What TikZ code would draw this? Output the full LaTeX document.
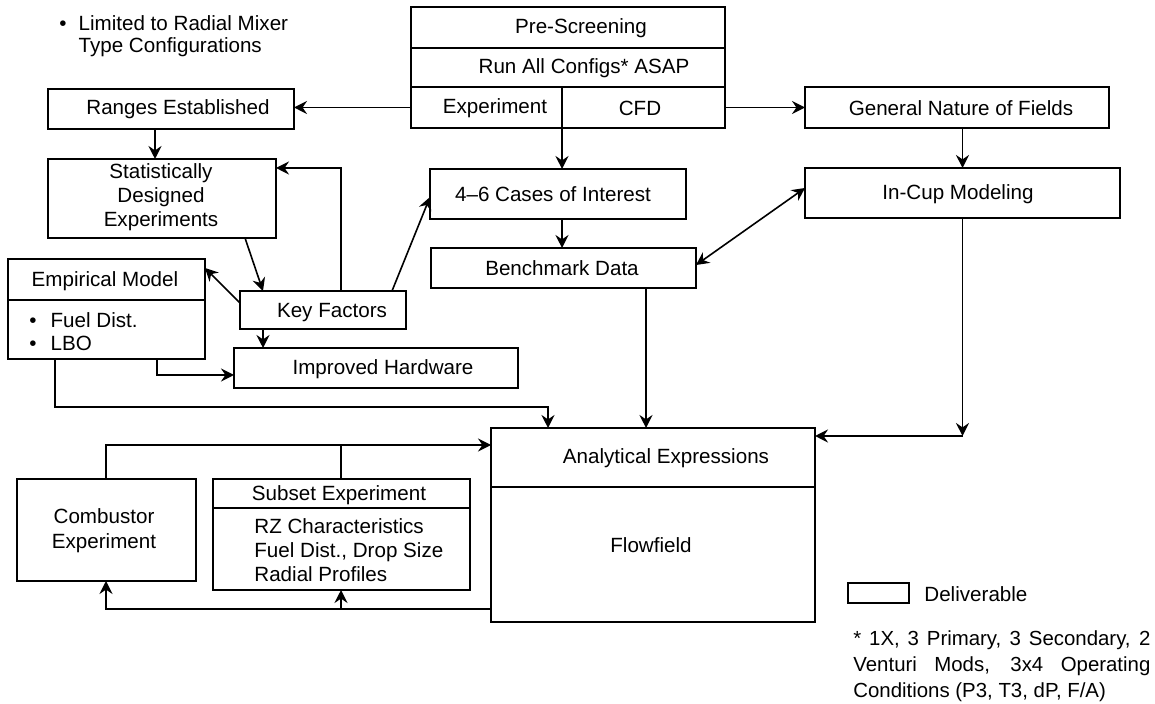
\documentclass[tikz,border=0pt]{standalone}
\usepackage{fontspec}
\setmainfont{Liberation Sans}
\usetikzlibrary{arrows.meta,calc}
\begin{document}
\begin{tikzpicture}[x=0.5pt,y=-0.5pt,
  box/.style={draw,line width=1.4pt,inner sep=0pt,outer sep=0pt},
  lbl/.style={inner sep=0pt,font=\fontsize{10.3}{12}\selectfont,align=center},
  con/.style={line width=0.8pt},
  tip/.tip={Stealth[length=6.5pt,width=6.5pt,inset=2.2pt]},
  arr/.style={con,-tip},
  darr/.style={con,tip-tip}]
\useasboundingbox (0,0) rectangle (1155,704);

% ---------- top-left note
\node[lbl,anchor=west,align=left,font=\fontsize{10.3}{11}\selectfont] (note) at (59,36)
  {\textbullet\hspace{6pt}Limited to Radial Mixer\\\hphantom{\textbullet\hspace{6pt}}Type Configurations};

% ---------- pre-screening block
\node[box,minimum width=157pt,minimum height=20.5pt] (pre) at (568,27.5) {};
\node[box,minimum width=157pt,minimum height=19.5pt] (run) at (568,67.5) {};
\node[box,minimum width=75.5pt,minimum height=20.5pt] (exp) at (486.5,107.5) {};
\node[box,minimum width=81.5pt,minimum height=20.5pt] (cfd) at (643.5,107.5) {};
\node[lbl] (preT) at (581,28) {Pre-Screening};
\node[lbl] (runT) at (584,68) {Run All Configs* ASAP};
\node[lbl] (expT) at (495,108) {Experiment};
\node[lbl] (cfdT) at (640,108) {CFD};

% ---------- left column
\node[box,minimum width=123pt,minimum height=20pt] (ranges) at (171,109) {};
\node[lbl] (rangesT) at (178,109) {Ranges Established};
\node[box,minimum width=114pt,minimum height=39.5pt] (stat) at (162,198.5) {};
\node[lbl] (statT) at (161,197) {Statistically\\Designed\\Experiments};

\node[box,minimum width=98.5pt,minimum height=20.5pt] (emph) at (106.5,279.5) {};
\node[box,minimum width=98.5pt,minimum height=29.5pt] (empb) at (106.5,329.5) {};
\node[lbl] (emphT) at (105,281) {Empirical Model};
\node[lbl,anchor=west,align=left,font=\fontsize{10.3}{11.5}\selectfont] (empbT) at (29,332)
  {\textbullet\hspace{7pt}Fuel Dist.\\\textbullet\hspace{7pt}LBO};

\node[box,minimum width=83pt,minimum height=19pt] (key) at (323,310) {};
\node[lbl] (keyT) at (332,313) {Key Factors};
\node[box,minimum width=142pt,minimum height=20pt] (imp) at (376,368) {};
\node[lbl] (impT) at (383,369) {Improved Hardware};

% ---------- middle column
\node[box,minimum width=128pt,minimum height=25pt] (cases) at (558,194) {};
\node[lbl] (casesT) at (553,194) {4\textendash6 Cases of Interest};
\node[box,minimum width=132.5pt,minimum height=20pt] (bench) at (563.5,268) {};
\node[lbl] (benchT) at (562,268) {Benchmark Data};

% ---------- right column
\node[box,minimum width=152pt,minimum height=20.5pt] (gen) at (957,107.5) {};
\node[lbl] (genT) at (961,108) {General Nature of Fields};
\node[box,minimum width=157.5pt,minimum height=25pt] (incup) at (962.5,193) {};
\node[lbl] (incupT) at (958,194) {In-Cup Modeling};

% ---------- analytical expressions
\node[box,minimum width=162pt,minimum height=29.5pt] (anah) at (653,457.5) {};
\node[box,minimum width=162pt,minimum height=67.5pt] (anab) at (653,554.5) {};
\node[lbl] (anahT) at (666,458) {Analytical Expressions};
\node[lbl] (anabT) at (651,545) {Flowfield};

% ---------- bottom-left boxes
\node[box,minimum width=89.5pt,minimum height=51pt] (comb) at (106.5,530) {};
\node[lbl,font=\fontsize{10.3}{12.5}\selectfont] (combT) at (104,531) {Combustor\\Experiment};
\node[box,minimum width=128.5pt,minimum height=14.5pt] (subh) at (341.5,493.5) {};
\node[box,minimum width=128.5pt,minimum height=41pt] (subb) at (341.5,549) {};
\node[lbl] (subhT) at (339,495) {Subset Experiment};
\node[lbl,anchor=west,align=left] (subbT) at (254,550)
  {RZ Characteristics\\Fuel Dist., Drop Size\\Radial Profiles};

% ---------- legend and footnote
\node[box,line width=1.2pt,minimum width=30.5pt,minimum height=10pt] (leg) at (878.5,593) {};
\node[lbl,anchor=west] (legT) at (924,594) {Deliverable};
\node[lbl,anchor=west,align=left,font=\fontsize{10.2}{13}\selectfont] (foot) at (853,666)
  {\makebox[148.5pt][s]{* 1X, 3 Primary, 3 Secondary, 2}\\
   \makebox[148.5pt][s]{Venturi Mods, 3x4 Operating}\\
   Conditions (P3, T3, dP, F/A)};

% ---------- bend points
\coordinate (c155) at (155,0);
\coordinate (c562) at (562,0);
\coordinate (k1) at (341,168);
\coordinate (c263) at (263,0);
\coordinate (e2) at (157,375);
\coordinate (e3) at (55,407);
\coordinate (e4) at (548,407);
\coordinate (c646) at (646,0);
\coordinate (icc) at (962.5,436);
\coordinate (t1) at (106,445);
\coordinate (t2) at (341,445);
\coordinate (r1) at (106,609);
\coordinate (r2) at (341,609);

% ---------- connectors
\draw[arr] (exp.west) -- (exp.west -| ranges.east);
\draw[arr] (cfd.east) -- (cfd.east -| gen.west);
\draw[arr] (ranges.south -| c155) -- (stat.north -| c155);
\draw[arr] (exp.south east) -- (cases.north -| c562);
\draw[arr] (cases.south -| c562) -- (bench.north -| c562);
\draw[arr] (incup.north |- gen.south) -- (incup.north);
\draw[darr] ($(bench.east)+(0,-3)$) -- ($(incup.west)+(0,-5)$);
\draw[arr] ($(stat.south west)+(197,0)$) -- (key.north -| c263);
\draw[arr] (key.north -| k1) -- (k1) -- (k1 -| stat.east);
\draw[arr] ($(key.west)+(0,-7)$) -- ($(emph.north east)+(0,9)$);
\draw[arr] (key.south -| c263) -- (imp.north -| c263);
\draw[arr] ($(key.north east)+(-14,0)$) -- ($(cases.west)+(0,3)$);
\draw[arr] (empb.south -| e2) -- (e2) -- (e2 -| imp.west);
\draw[arr] (empb.south -| e3) -- (e3) -- (e4) -- (e4 |- anah.north);
\draw[arr] (bench.south -| c646) -- (anah.north -| c646);
\draw[arr] (incup.south) -- (icc);
\draw[arr] (icc) -- (icc -| anah.east);
\draw[arr] (comb.north -| t1) -- (t1) -- (t1 -| anah.west);
\draw[con] (subh.north -| t2) -- (t2);
\draw[arr] (r1 -| anab.west) -- (r1) -- (comb.south -| r1);
\draw[arr] (r2) -- (subb.south -| r2);
\end{tikzpicture}
\end{document}
